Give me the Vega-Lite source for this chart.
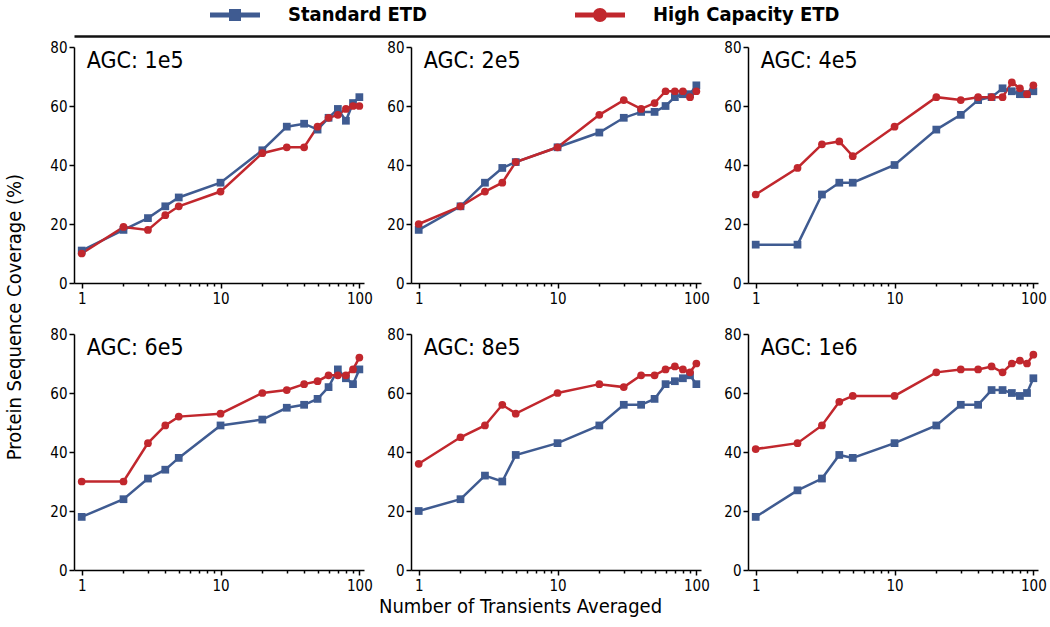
{
"$schema": "https://vega.github.io/schema/vega-lite/v6.json",
"padding": {"left": 4, "right": 0, "top": 0, "bottom": 0},
"background": "white",
"config": {
  "view": {"stroke": null},
  "font": "DejaVu Sans Condensed",
  "axis": {"labelFont": "DejaVu Sans Condensed", "labelFontSize": 15, "labelColor": "black", "domainColor": "black", "tickColor": "black", "grid": false, "domainWidth": 1.5, "tickWidth": 1.5}
},
"datasets": {
"cov": [
{"p":"AGC: 1e5","s":"Standard ETD","n":1,"v":11},{"p":"AGC: 1e5","s":"Standard ETD","n":2,"v":18},{"p":"AGC: 1e5","s":"Standard ETD","n":3,"v":22},{"p":"AGC: 1e5","s":"Standard ETD","n":4,"v":26},{"p":"AGC: 1e5","s":"Standard ETD","n":5,"v":29},{"p":"AGC: 1e5","s":"Standard ETD","n":10,"v":34},{"p":"AGC: 1e5","s":"Standard ETD","n":20,"v":45},{"p":"AGC: 1e5","s":"Standard ETD","n":30,"v":53},{"p":"AGC: 1e5","s":"Standard ETD","n":40,"v":54},{"p":"AGC: 1e5","s":"Standard ETD","n":50,"v":52},{"p":"AGC: 1e5","s":"Standard ETD","n":60,"v":56},{"p":"AGC: 1e5","s":"Standard ETD","n":70,"v":59},{"p":"AGC: 1e5","s":"Standard ETD","n":80,"v":55},{"p":"AGC: 1e5","s":"Standard ETD","n":90,"v":61},{"p":"AGC: 1e5","s":"Standard ETD","n":100,"v":63},
{"p":"AGC: 2e5","s":"Standard ETD","n":1,"v":18},{"p":"AGC: 2e5","s":"Standard ETD","n":2,"v":26},{"p":"AGC: 2e5","s":"Standard ETD","n":3,"v":34},{"p":"AGC: 2e5","s":"Standard ETD","n":4,"v":39},{"p":"AGC: 2e5","s":"Standard ETD","n":5,"v":41},{"p":"AGC: 2e5","s":"Standard ETD","n":10,"v":46},{"p":"AGC: 2e5","s":"Standard ETD","n":20,"v":51},{"p":"AGC: 2e5","s":"Standard ETD","n":30,"v":56},{"p":"AGC: 2e5","s":"Standard ETD","n":40,"v":58},{"p":"AGC: 2e5","s":"Standard ETD","n":50,"v":58},{"p":"AGC: 2e5","s":"Standard ETD","n":60,"v":60},{"p":"AGC: 2e5","s":"Standard ETD","n":70,"v":63},{"p":"AGC: 2e5","s":"Standard ETD","n":80,"v":64},{"p":"AGC: 2e5","s":"Standard ETD","n":90,"v":64},{"p":"AGC: 2e5","s":"Standard ETD","n":100,"v":67},
{"p":"AGC: 4e5","s":"Standard ETD","n":1,"v":13},{"p":"AGC: 4e5","s":"Standard ETD","n":2,"v":13},{"p":"AGC: 4e5","s":"Standard ETD","n":3,"v":30},{"p":"AGC: 4e5","s":"Standard ETD","n":4,"v":34},{"p":"AGC: 4e5","s":"Standard ETD","n":5,"v":34},{"p":"AGC: 4e5","s":"Standard ETD","n":10,"v":40},{"p":"AGC: 4e5","s":"Standard ETD","n":20,"v":52},{"p":"AGC: 4e5","s":"Standard ETD","n":30,"v":57},{"p":"AGC: 4e5","s":"Standard ETD","n":40,"v":62},{"p":"AGC: 4e5","s":"Standard ETD","n":50,"v":63},{"p":"AGC: 4e5","s":"Standard ETD","n":60,"v":66},{"p":"AGC: 4e5","s":"Standard ETD","n":70,"v":65},{"p":"AGC: 4e5","s":"Standard ETD","n":80,"v":64},{"p":"AGC: 4e5","s":"Standard ETD","n":90,"v":64},{"p":"AGC: 4e5","s":"Standard ETD","n":100,"v":65},
{"p":"AGC: 6e5","s":"Standard ETD","n":1,"v":18},{"p":"AGC: 6e5","s":"Standard ETD","n":2,"v":24},{"p":"AGC: 6e5","s":"Standard ETD","n":3,"v":31},{"p":"AGC: 6e5","s":"Standard ETD","n":4,"v":34},{"p":"AGC: 6e5","s":"Standard ETD","n":5,"v":38},{"p":"AGC: 6e5","s":"Standard ETD","n":10,"v":49},{"p":"AGC: 6e5","s":"Standard ETD","n":20,"v":51},{"p":"AGC: 6e5","s":"Standard ETD","n":30,"v":55},{"p":"AGC: 6e5","s":"Standard ETD","n":40,"v":56},{"p":"AGC: 6e5","s":"Standard ETD","n":50,"v":58},{"p":"AGC: 6e5","s":"Standard ETD","n":60,"v":62},{"p":"AGC: 6e5","s":"Standard ETD","n":70,"v":68},{"p":"AGC: 6e5","s":"Standard ETD","n":80,"v":65},{"p":"AGC: 6e5","s":"Standard ETD","n":90,"v":63},{"p":"AGC: 6e5","s":"Standard ETD","n":100,"v":68},
{"p":"AGC: 8e5","s":"Standard ETD","n":1,"v":20},{"p":"AGC: 8e5","s":"Standard ETD","n":2,"v":24},{"p":"AGC: 8e5","s":"Standard ETD","n":3,"v":32},{"p":"AGC: 8e5","s":"Standard ETD","n":4,"v":30},{"p":"AGC: 8e5","s":"Standard ETD","n":5,"v":39},{"p":"AGC: 8e5","s":"Standard ETD","n":10,"v":43},{"p":"AGC: 8e5","s":"Standard ETD","n":20,"v":49},{"p":"AGC: 8e5","s":"Standard ETD","n":30,"v":56},{"p":"AGC: 8e5","s":"Standard ETD","n":40,"v":56},{"p":"AGC: 8e5","s":"Standard ETD","n":50,"v":58},{"p":"AGC: 8e5","s":"Standard ETD","n":60,"v":63},{"p":"AGC: 8e5","s":"Standard ETD","n":70,"v":64},{"p":"AGC: 8e5","s":"Standard ETD","n":80,"v":65},{"p":"AGC: 8e5","s":"Standard ETD","n":90,"v":66},{"p":"AGC: 8e5","s":"Standard ETD","n":100,"v":63},
{"p":"AGC: 1e6","s":"Standard ETD","n":1,"v":18},{"p":"AGC: 1e6","s":"Standard ETD","n":2,"v":27},{"p":"AGC: 1e6","s":"Standard ETD","n":3,"v":31},{"p":"AGC: 1e6","s":"Standard ETD","n":4,"v":39},{"p":"AGC: 1e6","s":"Standard ETD","n":5,"v":38},{"p":"AGC: 1e6","s":"Standard ETD","n":10,"v":43},{"p":"AGC: 1e6","s":"Standard ETD","n":20,"v":49},{"p":"AGC: 1e6","s":"Standard ETD","n":30,"v":56},{"p":"AGC: 1e6","s":"Standard ETD","n":40,"v":56},{"p":"AGC: 1e6","s":"Standard ETD","n":50,"v":61},{"p":"AGC: 1e6","s":"Standard ETD","n":60,"v":61},{"p":"AGC: 1e6","s":"Standard ETD","n":70,"v":60},{"p":"AGC: 1e6","s":"Standard ETD","n":80,"v":59},{"p":"AGC: 1e6","s":"Standard ETD","n":90,"v":60},{"p":"AGC: 1e6","s":"Standard ETD","n":100,"v":65},
{"p":"AGC: 1e5","s":"High Capacity ETD","n":1,"v":10},{"p":"AGC: 1e5","s":"High Capacity ETD","n":2,"v":19},{"p":"AGC: 1e5","s":"High Capacity ETD","n":3,"v":18},{"p":"AGC: 1e5","s":"High Capacity ETD","n":4,"v":23},{"p":"AGC: 1e5","s":"High Capacity ETD","n":5,"v":26},{"p":"AGC: 1e5","s":"High Capacity ETD","n":10,"v":31},{"p":"AGC: 1e5","s":"High Capacity ETD","n":20,"v":44},{"p":"AGC: 1e5","s":"High Capacity ETD","n":30,"v":46},{"p":"AGC: 1e5","s":"High Capacity ETD","n":40,"v":46},{"p":"AGC: 1e5","s":"High Capacity ETD","n":50,"v":53},{"p":"AGC: 1e5","s":"High Capacity ETD","n":60,"v":56},{"p":"AGC: 1e5","s":"High Capacity ETD","n":70,"v":57},{"p":"AGC: 1e5","s":"High Capacity ETD","n":80,"v":59},{"p":"AGC: 1e5","s":"High Capacity ETD","n":90,"v":60},{"p":"AGC: 1e5","s":"High Capacity ETD","n":100,"v":60},
{"p":"AGC: 2e5","s":"High Capacity ETD","n":1,"v":20},{"p":"AGC: 2e5","s":"High Capacity ETD","n":2,"v":26},{"p":"AGC: 2e5","s":"High Capacity ETD","n":3,"v":31},{"p":"AGC: 2e5","s":"High Capacity ETD","n":4,"v":34},{"p":"AGC: 2e5","s":"High Capacity ETD","n":5,"v":41},{"p":"AGC: 2e5","s":"High Capacity ETD","n":10,"v":46},{"p":"AGC: 2e5","s":"High Capacity ETD","n":20,"v":57},{"p":"AGC: 2e5","s":"High Capacity ETD","n":30,"v":62},{"p":"AGC: 2e5","s":"High Capacity ETD","n":40,"v":59},{"p":"AGC: 2e5","s":"High Capacity ETD","n":50,"v":61},{"p":"AGC: 2e5","s":"High Capacity ETD","n":60,"v":65},{"p":"AGC: 2e5","s":"High Capacity ETD","n":70,"v":65},{"p":"AGC: 2e5","s":"High Capacity ETD","n":80,"v":65},{"p":"AGC: 2e5","s":"High Capacity ETD","n":90,"v":63},{"p":"AGC: 2e5","s":"High Capacity ETD","n":100,"v":65},
{"p":"AGC: 4e5","s":"High Capacity ETD","n":1,"v":30},{"p":"AGC: 4e5","s":"High Capacity ETD","n":2,"v":39},{"p":"AGC: 4e5","s":"High Capacity ETD","n":3,"v":47},{"p":"AGC: 4e5","s":"High Capacity ETD","n":4,"v":48},{"p":"AGC: 4e5","s":"High Capacity ETD","n":5,"v":43},{"p":"AGC: 4e5","s":"High Capacity ETD","n":10,"v":53},{"p":"AGC: 4e5","s":"High Capacity ETD","n":20,"v":63},{"p":"AGC: 4e5","s":"High Capacity ETD","n":30,"v":62},{"p":"AGC: 4e5","s":"High Capacity ETD","n":40,"v":63},{"p":"AGC: 4e5","s":"High Capacity ETD","n":50,"v":63},{"p":"AGC: 4e5","s":"High Capacity ETD","n":60,"v":63},{"p":"AGC: 4e5","s":"High Capacity ETD","n":70,"v":68},{"p":"AGC: 4e5","s":"High Capacity ETD","n":80,"v":66},{"p":"AGC: 4e5","s":"High Capacity ETD","n":90,"v":64},{"p":"AGC: 4e5","s":"High Capacity ETD","n":100,"v":67},
{"p":"AGC: 6e5","s":"High Capacity ETD","n":1,"v":30},{"p":"AGC: 6e5","s":"High Capacity ETD","n":2,"v":30},{"p":"AGC: 6e5","s":"High Capacity ETD","n":3,"v":43},{"p":"AGC: 6e5","s":"High Capacity ETD","n":4,"v":49},{"p":"AGC: 6e5","s":"High Capacity ETD","n":5,"v":52},{"p":"AGC: 6e5","s":"High Capacity ETD","n":10,"v":53},{"p":"AGC: 6e5","s":"High Capacity ETD","n":20,"v":60},{"p":"AGC: 6e5","s":"High Capacity ETD","n":30,"v":61},{"p":"AGC: 6e5","s":"High Capacity ETD","n":40,"v":63},{"p":"AGC: 6e5","s":"High Capacity ETD","n":50,"v":64},{"p":"AGC: 6e5","s":"High Capacity ETD","n":60,"v":66},{"p":"AGC: 6e5","s":"High Capacity ETD","n":70,"v":66},{"p":"AGC: 6e5","s":"High Capacity ETD","n":80,"v":66},{"p":"AGC: 6e5","s":"High Capacity ETD","n":90,"v":68},{"p":"AGC: 6e5","s":"High Capacity ETD","n":100,"v":72},
{"p":"AGC: 8e5","s":"High Capacity ETD","n":1,"v":36},{"p":"AGC: 8e5","s":"High Capacity ETD","n":2,"v":45},{"p":"AGC: 8e5","s":"High Capacity ETD","n":3,"v":49},{"p":"AGC: 8e5","s":"High Capacity ETD","n":4,"v":56},{"p":"AGC: 8e5","s":"High Capacity ETD","n":5,"v":53},{"p":"AGC: 8e5","s":"High Capacity ETD","n":10,"v":60},{"p":"AGC: 8e5","s":"High Capacity ETD","n":20,"v":63},{"p":"AGC: 8e5","s":"High Capacity ETD","n":30,"v":62},{"p":"AGC: 8e5","s":"High Capacity ETD","n":40,"v":66},{"p":"AGC: 8e5","s":"High Capacity ETD","n":50,"v":66},{"p":"AGC: 8e5","s":"High Capacity ETD","n":60,"v":68},{"p":"AGC: 8e5","s":"High Capacity ETD","n":70,"v":69},{"p":"AGC: 8e5","s":"High Capacity ETD","n":80,"v":68},{"p":"AGC: 8e5","s":"High Capacity ETD","n":90,"v":67},{"p":"AGC: 8e5","s":"High Capacity ETD","n":100,"v":70},
{"p":"AGC: 1e6","s":"High Capacity ETD","n":1,"v":41},{"p":"AGC: 1e6","s":"High Capacity ETD","n":2,"v":43},{"p":"AGC: 1e6","s":"High Capacity ETD","n":3,"v":49},{"p":"AGC: 1e6","s":"High Capacity ETD","n":4,"v":57},{"p":"AGC: 1e6","s":"High Capacity ETD","n":5,"v":59},{"p":"AGC: 1e6","s":"High Capacity ETD","n":10,"v":59},{"p":"AGC: 1e6","s":"High Capacity ETD","n":20,"v":67},{"p":"AGC: 1e6","s":"High Capacity ETD","n":30,"v":68},{"p":"AGC: 1e6","s":"High Capacity ETD","n":40,"v":68},{"p":"AGC: 1e6","s":"High Capacity ETD","n":50,"v":69},{"p":"AGC: 1e6","s":"High Capacity ETD","n":60,"v":67},{"p":"AGC: 1e6","s":"High Capacity ETD","n":70,"v":70},{"p":"AGC: 1e6","s":"High Capacity ETD","n":80,"v":71},{"p":"AGC: 1e6","s":"High Capacity ETD","n":90,"v":70},{"p":"AGC: 1e6","s":"High Capacity ETD","n":100,"v":73}
]
},
"data": {"name": "cov"},
"title": {"text": "Number of Transients Averaged", "orient": "bottom", "anchor": "middle", "fontSize": 20, "fontWeight": "normal", "font": "DejaVu Sans Condensed", "color": "black", "offset": 4, "dx": -27},
"resolve": {"legend": {"color": "independent", "shape": "independent"}, "scale": {"shape": "independent"}},
"spacing": 4,
"vconcat": [
  {
    "width": 1016,
    "height": 36,
    "transform": [{"filter": "datum.n < 0"}],
    "mark": {"type": "point", "filled": true, "opacity": 1},
    "encoding": {
      "x": {"field": "n", "type": "quantitative", "scale": {"type": "log", "domain": [1, 100]}, "axis": {"title": null, "labels": false, "ticks": false, "domainWidth": 2.5, "domainColor": "#111111"}},
      "color": {"field": "s", "type": "nominal",
        "scale": {"domain": ["Standard ETD", "High Capacity ETD"], "range": ["#3f5b91", "#c1272d"]},
        "legend": {"orient": "none", "legendX": 151, "legendY": 5, "direction": "horizontal", "title": null,
          "labelFont": "DejaVu Sans Condensed", "labelFontSize": 20, "labelFontWeight": "bold", "labelColor": "black",
          "symbolSize": 100, "symbolOpacity": 1, "symbolStrokeWidth": 0, "labelOffset": 43, "columnPadding": 147, "labelLimit": 400}
      },
      "shape": {"field": "s", "type": "nominal",
        "scale": {"domain": ["Standard ETD", "High Capacity ETD"], "range": ["M-5,-0.5H5V0.5H-5ZM-1.2,-1.2H1.2V1.2H-1.2Z", "M-5,-0.5H5V0.5H-5ZM-1.4,0A1.4,1.4 0 1,1 1.4,0A1.4,1.4 0 1,1 -1.4,0Z"]},
        "legend": {"orient": "none", "legendX": 151, "legendY": 5, "direction": "horizontal", "title": null,
          "labelFont": "DejaVu Sans Condensed", "labelFontSize": 20, "labelFontWeight": "bold", "labelColor": "black",
          "symbolSize": 100, "symbolOpacity": 1, "symbolStrokeWidth": 0, "labelOffset": 43, "columnPadding": 147, "labelLimit": 400}
      }
    }
  },
  {
    "transform": [
      {"calculate": "indexof(['AGC: 1e5','AGC: 2e5','AGC: 4e5'], datum.p) >= 0 ? 1 : 2", "as": "r"},
      {"calculate": "indexof(['AGC: 1e5','AGC: 6e5'], datum.p) >= 0 ? 1 : (indexof(['AGC: 2e5','AGC: 8e5'], datum.p) >= 0 ? 2 : 3)", "as": "c"}
    ],
    "facet": {
      "row": {"field": "r", "type": "ordinal", "title": "Protein Sequence Coverage (%)",
        "header": {"labels": false, "titleFont": "DejaVu Sans Condensed", "titleFontSize": 20, "titleFontWeight": "normal", "titleColor": "black", "titlePadding": 14}},
      "column": {"field": "c", "type": "ordinal", "title": null, "header": {"labels": false, "title": null}}
    },
    "spacing": {"row": 21, "column": 13},
    "resolve": {"axis": {"x": "independent", "y": "independent"}},
    "spec": {
      "width": 290,
      "height": 236,
      "layer": [
        {
          "mark": {"type": "line", "strokeWidth": 2.5},
          "encoding": {
            "x": {"field": "n", "type": "quantitative",
              "scale": {"type": "log", "domain": [0.88, 108], "nice": false},
              "axis": {"title": null, "values": [1,2,3,4,5,6,7,8,9,10,20,30,40,50,60,70,80,90,100], "format": "d",
                "labelExpr": "datum.value == 1 || datum.value == 10 || datum.value == 100 ? datum.label : ''",
                "labelOverlap": false, "labelFlush": false, "labelPadding": 3,
                "tickSize": {"condition": {"test": "datum.value == 1 || datum.value == 10 || datum.value == 100", "value": 5}, "value": 3}}},
            "y": {"field": "v", "type": "quantitative",
              "scale": {"domain": [0, 80], "nice": false},
              "axis": {"title": null, "values": [0,5,10,15,20,25,30,35,40,45,50,55,60,65,70,75,80],
                "labelExpr": "datum.value % 10 == 0 ? datum.label : ''",
                "labelOverlap": false, "labelFlush": false, "labelPadding": 2,
                "tickSize": {"condition": {"test": "datum.value % 10 == 0", "value": 5}, "value": 3}}},
            "color": {"field": "s", "type": "nominal", "scale": {"domain": ["Standard ETD", "High Capacity ETD"], "range": ["#3f5b91", "#c1272d"]}, "legend": null}
          }
        },
        {
          "mark": {"type": "point", "filled": true, "size": 60, "opacity": 1},
          "encoding": {
            "x": {"field": "n", "type": "quantitative"},
            "y": {"field": "v", "type": "quantitative"},
            "color": {"field": "s", "type": "nominal", "legend": null},
            "shape": {"field": "s", "type": "nominal", "scale": {"domain": ["Standard ETD", "High Capacity ETD"], "range": ["square", "circle"]}, "legend": null}
          }
        },
        {
          "transform": [{"filter": "datum.n == 1 && datum.s == 'Standard ETD'"}],
          "mark": {"type": "text", "align": "left", "baseline": "top", "dx": 5, "dy": 3, "fontSize": 23, "font": "DejaVu Sans Condensed", "color": "black"},
          "encoding": {
            "x": {"datum": 1},
            "y": {"datum": 80},
            "text": {"field": "p"}
          }
        }
      ]
    }
  }
]
}
